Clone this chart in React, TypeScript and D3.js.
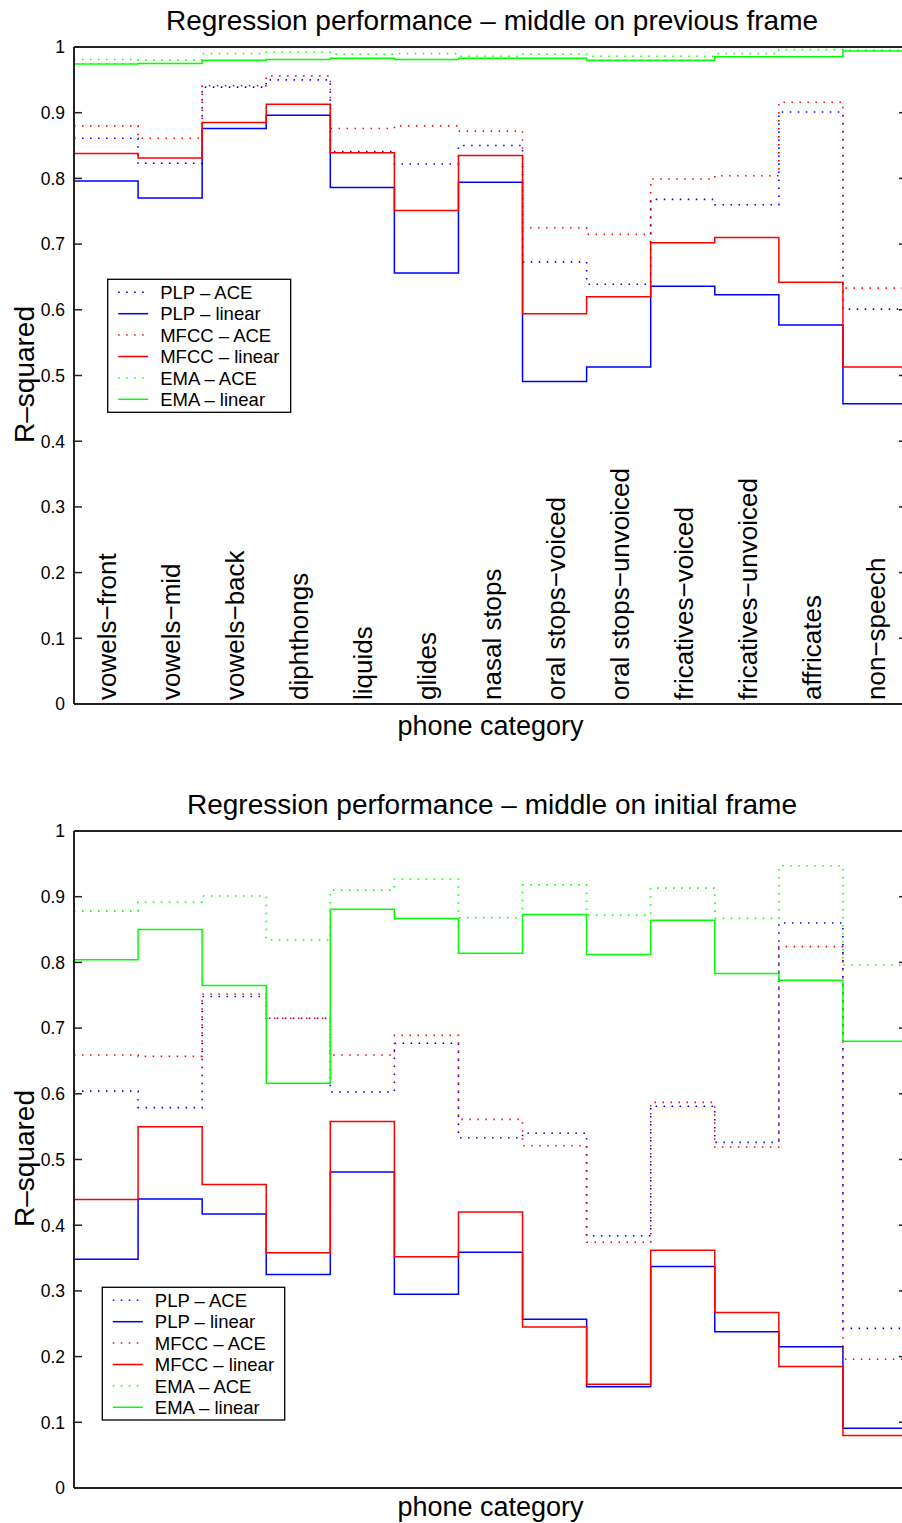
import React, { useEffect } from "react";
import * as d3 from "d3";

const categories = [
  "vowels\u2212front", "vowels\u2212mid", "vowels\u2212back", "diphthongs", "liquids", "glides",
  "nasal stops", "oral stops\u2212voiced", "oral stops\u2212unvoiced", "fricatives\u2212voiced",
  "fricatives\u2212unvoiced", "affricates", "non\u2212speech",
];

const yTicks = [0, 0.1, 0.2, 0.3, 0.4, 0.5, 0.6, 0.7, 0.8, 0.9, 1];

const seriesNames = ["PLP \u2013 ACE", "PLP \u2013 linear", "MFCC \u2013 ACE", "MFCC \u2013 linear", "EMA \u2013 ACE", "EMA \u2013 linear"];
const seriesColors = ["#0000ff", "#0000ff", "#ff0000", "#ff0000", "#00ff00", "#00ff00"];
const seriesDotted = [true, false, true, false, true, false];

const titlePrev = "Regression performance \u2013 middle on previous frame";
const titleInit = "Regression performance \u2013 middle on initial frame";
const yLabel = "R\u2013squared";
const xLabel = "phone category";

// Panel 1: middle on previous frame
const prevPlpAce = [0.861, 0.823, 0.939, 0.950, 0.841, 0.822, 0.850, 0.673, 0.639, 0.768, 0.760, 0.901, 0.601];
const prevPlpLinear = [0.796, 0.770, 0.876, 0.896, 0.786, 0.656, 0.794, 0.491, 0.513, 0.636, 0.623, 0.577, 0.457];
const prevMfccAce = [0.880, 0.861, 0.941, 0.956, 0.876, 0.880, 0.872, 0.725, 0.715, 0.799, 0.804, 0.916, 0.633];
const prevMfccLinear = [0.838, 0.831, 0.885, 0.913, 0.839, 0.751, 0.835, 0.594, 0.620, 0.702, 0.710, 0.642, 0.513];
const prevEmaAce = [0.981, 0.980, 0.990, 0.992, 0.989, 0.990, 0.986, 0.989, 0.986, 0.986, 0.990, 0.996, 0.995];
const prevEmaLinear = [0.974, 0.975, 0.980, 0.981, 0.983, 0.981, 0.983, 0.983, 0.980, 0.980, 0.985, 0.985, 0.994];

// Panel 2: middle on initial frame
const initPlpAce = [0.604, 0.579, 0.748, 0.715, 0.603, 0.677, 0.533, 0.540, 0.384, 0.581, 0.526, 0.860, 0.243];
const initPlpLinear = [0.348, 0.440, 0.417, 0.325, 0.481, 0.295, 0.359, 0.257, 0.154, 0.337, 0.238, 0.215, 0.091];
const initMfccAce = [0.659, 0.657, 0.752, 0.715, 0.659, 0.689, 0.561, 0.521, 0.374, 0.587, 0.519, 0.824, 0.196];
const initMfccLinear = [0.439, 0.550, 0.462, 0.358, 0.558, 0.352, 0.420, 0.245, 0.158, 0.362, 0.267, 0.185, 0.080];
const initEmaAce = [0.878, 0.892, 0.901, 0.834, 0.910, 0.927, 0.868, 0.918, 0.872, 0.913, 0.867, 0.947, 0.796];
const initEmaLinear = [0.804, 0.850, 0.765, 0.616, 0.881, 0.867, 0.814, 0.873, 0.812, 0.864, 0.783, 0.773, 0.680];

const FONT = "'Liberation Sans', Arial, Helvetica, sans-serif";

type PanelProps = {
  title: string;
  series: number[][];
  top: number;
  bottom: number;
  titleY: number;
  xLabelY: number;
  showCats: boolean;
  legend: { x: number; y: number; w: number; h: number };
};

const LEFT = 74;
const RIGHT = 907;

function Panel({ title, series, top, bottom, titleY, xLabelY, showCats, legend }: PanelProps) {
  const x = d3.scaleLinear().domain([0, categories.length]).range([LEFT, RIGHT]);
  const y = d3.scaleLinear().domain([0, 1]).range([bottom, top]);
  const line = d3
    .line<[number, number]>()
    .x((d) => x(d[0]))
    .y((d) => y(d[1]))
    .curve(d3.curveStepAfter);
  const mid = (top + bottom) / 2;
  const cx = (LEFT + RIGHT) / 2;
  return (
    <g>
      <text x={cx + 1.5} y={titleY} textAnchor="middle" fontSize={28} fontFamily={FONT} fill="#000">
        {title}
      </text>
      {series.map((vals, si) => {
        const pts: [number, number][] = vals.map((v, i) => [i, v] as [number, number]);
        pts.push([vals.length, vals[vals.length - 1]]);
        return (
          <path
            key={si}
            d={line(pts) || ""}
            fill="none"
            stroke={seriesColors[si]}
            strokeWidth={seriesDotted[si] ? 1.6 : 1.5}
            strokeDasharray={seriesDotted[si] ? "1.5,6.5" : undefined}
          />
        );
      })}
      <line x1={LEFT} x2={RIGHT} y1={top} y2={top} stroke="#222" strokeWidth={2} />
      <line x1={LEFT} x2={RIGHT} y1={bottom} y2={bottom} stroke="#222" strokeWidth={2} />
      <line x1={LEFT} x2={LEFT} y1={top} y2={bottom} stroke="#222" strokeWidth={2} />
      <line x1={RIGHT} x2={RIGHT} y1={top} y2={bottom} stroke="#222" strokeWidth={2} />
      {yTicks.map((t) => (
        <g key={t}>
          <line x1={LEFT} x2={LEFT + 8} y1={y(t)} y2={y(t)} stroke="#222" strokeWidth={1.5} />
          <line x1={RIGHT - 8} x2={RIGHT} y1={y(t)} y2={y(t)} stroke="#222" strokeWidth={1.5} />
          <text x={65} y={y(t)} dy="0.36em" textAnchor="end" fontSize={17.5} fontFamily={FONT} fill="#000">
            {String(t)}
          </text>
        </g>
      ))}
      {showCats &&
        categories.map((c, i) => {
          const px = x(i + 0.5) + 10;
          return (
            <text
              key={c}
              transform={`translate(${px},${bottom - 4}) rotate(-90)`}
              fontSize={26}
              fontFamily={FONT}
              fill="#000"
            >
              {c}
            </text>
          );
        })}
      <text x={cx} y={xLabelY} textAnchor="middle" fontSize={27} fontFamily={FONT} fill="#000">
        {xLabel}
      </text>
      <text
        transform={`translate(34,${mid - 1}) rotate(-90)`}
        textAnchor="middle"
        fontSize={28}
        fontFamily={FONT}
        fill="#000"
      >
        {yLabel}
      </text>
      <rect x={legend.x} y={legend.y} width={legend.w} height={legend.h} fill="#fff" stroke="#000" strokeWidth={1.3} />
      {seriesNames.map((n, i) => {
        const ly = legend.y + 13 + i * 21.4;
        return (
          <g key={n}>
            <line
              x1={legend.x + 10.5}
              x2={legend.x + 40.5}
              y1={ly}
              y2={ly}
              stroke={seriesColors[i]}
              strokeWidth={1.5}
              strokeDasharray={seriesDotted[i] ? "1.5,6.5" : undefined}
            />
            <text x={legend.x + 52.5} y={ly} dy="0.36em" fontSize={18.5} fontFamily={FONT} fill="#000">
              {n}
            </text>
          </g>
        );
      })}
    </g>
  );
}

export default function App() {
  useEffect(() => {
    document.body.style.margin = "0";
  }, []);
  return (
    <svg
      width={902}
      height={1523}
      style={{ position: "absolute", left: 0, top: 0, background: "#fff" }}
      xmlns="http://www.w3.org/2000/svg"
    >
      <rect x={0} y={0} width={902} height={1523} fill="#fff" />
      <Panel
        title={titlePrev}
        series={[prevPlpAce, prevPlpLinear, prevMfccAce, prevMfccLinear, prevEmaAce, prevEmaLinear]}
        top={47}
        bottom={704}
        titleY={30}
        xLabelY={735}
        showCats={true}
        legend={{ x: 107.7, y: 279.3, w: 183, h: 133 }}
      />
      <Panel
        title={titleInit}
        series={[initPlpAce, initPlpLinear, initMfccAce, initMfccLinear, initEmaAce, initEmaLinear]}
        top={831}
        bottom={1488}
        titleY={813.5}
        xLabelY={1516}
        showCats={false}
        legend={{ x: 102.3, y: 1287.3, w: 182.4, h: 132.7 }}
      />
    </svg>
  );
}
